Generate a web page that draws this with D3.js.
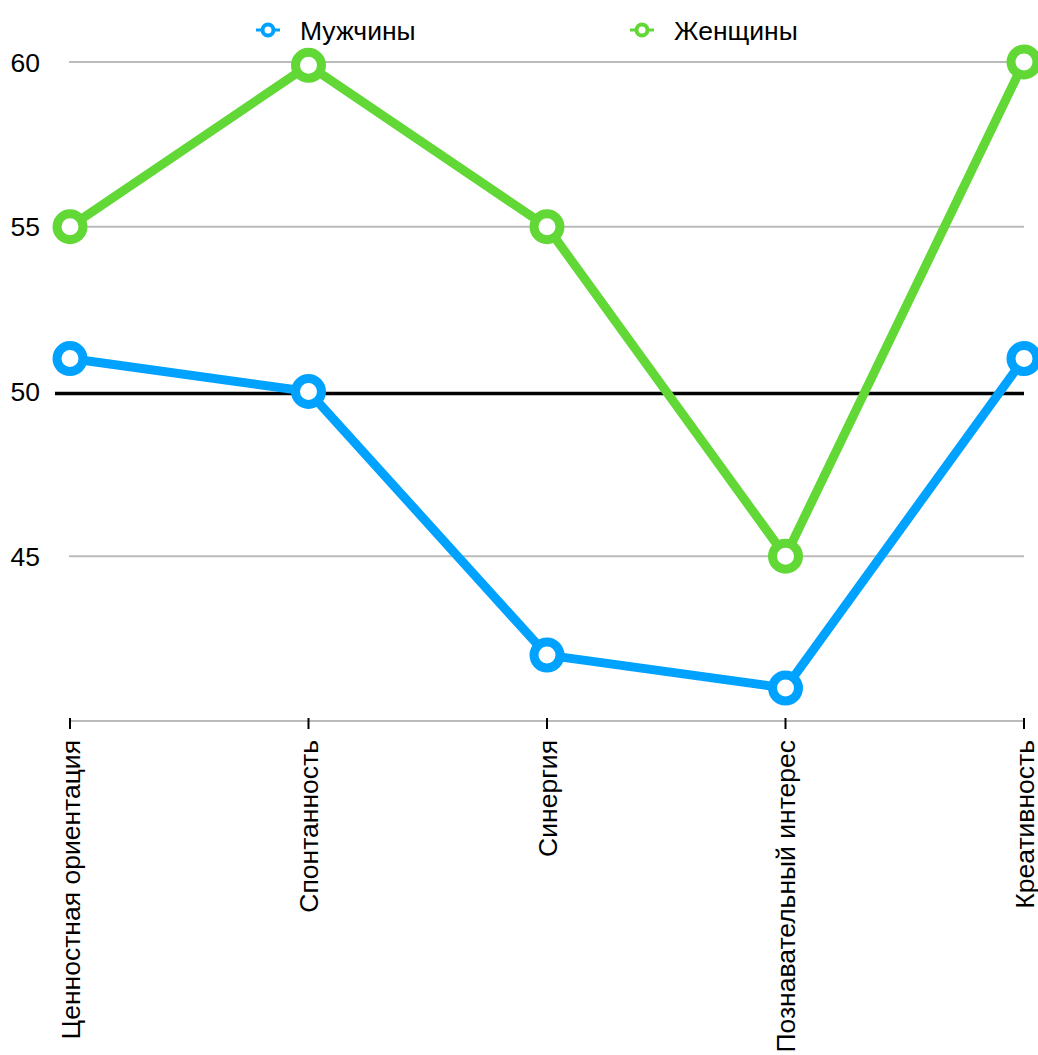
<!DOCTYPE html>
<html><head><meta charset="utf-8">
<script src="https://cdn.jsdelivr.net/npm/d3@7"></script>
<style>body{margin:0;background:#fff;} text{font-family:"Liberation Sans",Arial,Helvetica,sans-serif;}</style>
</head><body>
<svg id="c" width="1038" height="1055"></svg>
<script>
const categories = ["Ценностная ориентация","Спонтанность","Синергия","Познавательный интерес","Креативность"];
const men = [51, 50, 42, 41, 51];
const women = [55, 59.9, 55, 45, 60];
const yTicks = [45, 50, 55, 60];
const seriesNames = ["Мужчины","Женщины"];
const seriesColors = ["#00a2ff","#61d836"];
const refValue = 50;

const svg = d3.select("#c");
const x = d3.scalePoint().domain(categories).range([70, 1024]);
const y = d3.scaleLinear().domain([40, 60]).range([721, 62]);
const fs = 26.5;

// gridlines
svg.append("g").selectAll("line").data(yTicks.filter(t => t !== refValue)).join("line")
  .attr("x1", 69).attr("x2", 1024).attr("y1", d => y(d)).attr("y2", d => y(d))
  .attr("stroke", "#bbbbbb").attr("stroke-width", 2);

// y labels
svg.append("g").selectAll("text").data(yTicks).join("text")
  .attr("x", 40).attr("y", d => y(d)).attr("dy", "0.36em")
  .attr("text-anchor", "end").attr("font-size", fs).attr("fill", "#000").text(d => d);

// x axis
svg.append("line").attr("x1", 69).attr("x2", 1024).attr("y1", y(40)).attr("y2", y(40))
  .attr("stroke", "#bbbbbb").attr("stroke-width", 2);
svg.append("g").selectAll("line").data(categories).join("line")
  .attr("x1", d => x(d)).attr("x2", d => x(d)).attr("y1", y(40) - 3).attr("y2", y(40) + 8)
  .attr("stroke", "#000").attr("stroke-width", 2);
svg.append("g").selectAll("text").data(categories).join("text")
  .attr("transform", d => `translate(${x(d)},740) rotate(-90)`)
  .attr("text-anchor", "end").attr("dy", "0.36em")
  .attr("font-size", fs).attr("fill", "#000").text(d => d);

// reference line
svg.append("line").attr("x1", 55).attr("x2", 1024).attr("y1", y(refValue) + 2).attr("y2", y(refValue) + 2)
  .attr("stroke", "#000").attr("stroke-width", 3.5);

const series = [men, women];
const line = d3.line().x((d, i) => x(categories[i])).y(d => y(d));
series.forEach((vals, si) => {
  const g = svg.append("g");
  g.append("path").datum(vals).attr("d", line).attr("fill", "none")
    .attr("stroke", seriesColors[si]).attr("stroke-width", 9).attr("stroke-linejoin", "round");
  g.selectAll("circle").data(vals).join("circle")
    .attr("cx", (d, i) => x(categories[i])).attr("cy", d => y(d)).attr("r", 13)
    .attr("fill", "#fff").attr("stroke", seriesColors[si]).attr("stroke-width", 9);
});

// legend
const legX = [268, 642];
seriesNames.forEach((n, i) => {
  const g = svg.append("g").attr("transform", `translate(${legX[i]},30)`);
  g.append("line").attr("x1", -12).attr("x2", 12).attr("stroke", seriesColors[i]).attr("stroke-width", 3);
  g.append("circle").attr("r", 5.5).attr("fill", "#fff").attr("stroke", seriesColors[i]).attr("stroke-width", 4);
  g.append("text").attr("x", 32).attr("dy", "0.36em").attr("font-size", fs).attr("fill", "#000").text(n);
});
</script>
</body></html>
